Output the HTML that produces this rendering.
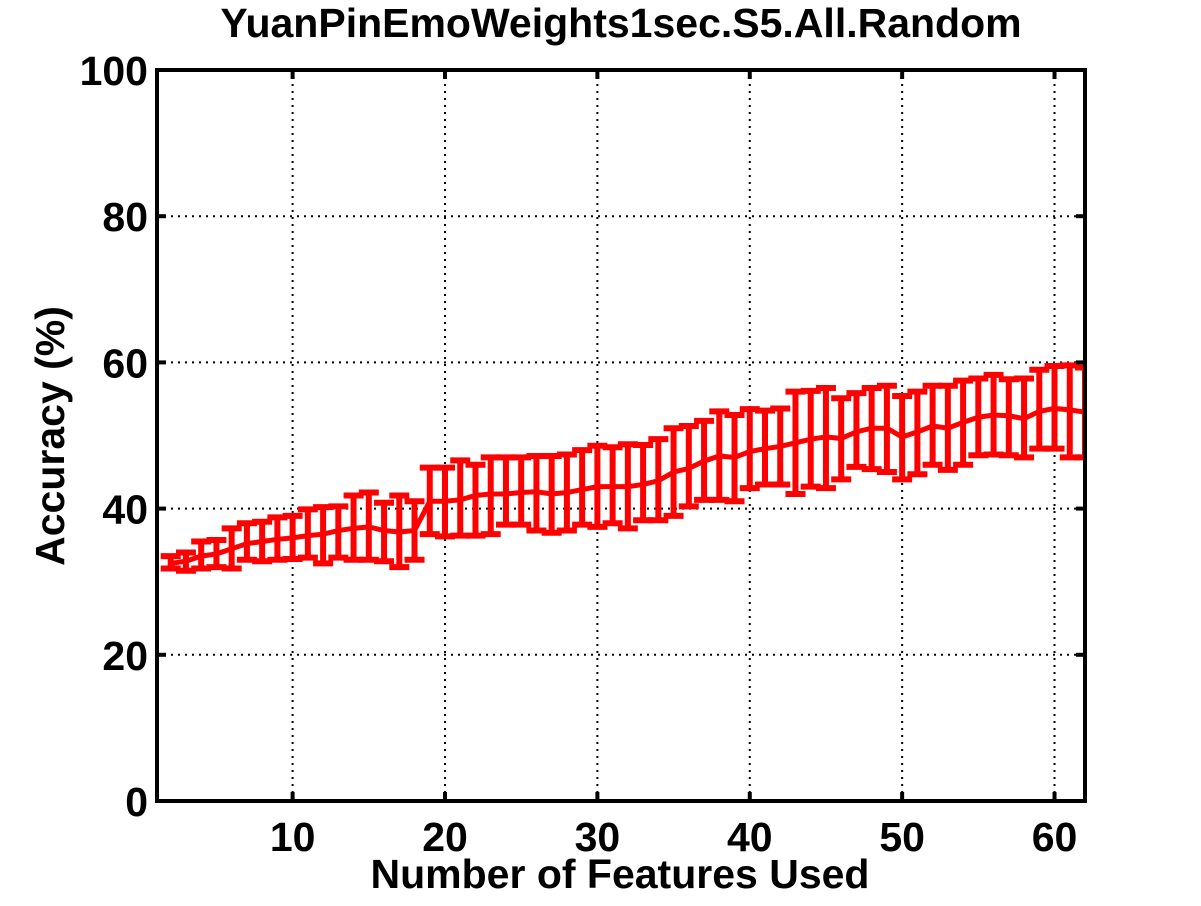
<!DOCTYPE html>
<html><head><meta charset="utf-8"><style>
body{margin:0;background:#fff}
svg text{font-family:"Liberation Sans",Arial,sans-serif;font-weight:bold;fill:#000}
</style></head><body>
<svg id="chart" width="1201" height="901" viewBox="0 0 1201 901" xmlns="http://www.w3.org/2000/svg">
<defs><clipPath id="plotclip"><rect x="157" y="70" width="928" height="731"/></clipPath></defs>
<rect width="1201" height="901" fill="#fff"/>
<text x="621" y="37" font-size="41" text-anchor="middle">YuanPinEmoWeights1sec.S5.All.Random</text>
<g id="grid"></g>
<g id="series" clip-path="url(#plotclip)"></g>
<g id="axes"></g>
<text x="620" y="888" font-size="41" text-anchor="middle">Number of Features Used</text>
<text x="64" y="436" font-size="41" text-anchor="middle" transform="rotate(-90 64 436)">Accuracy (%)</text>
</svg>
<script>
const xs=[2,3,4,5,6,7,8,9,10,11,12,13,14,15,16,17,18,19,20,21,22,23,24,25,26,27,28,29,30,31,32,33,34,35,36,37,38,39,40,41,42,43,44,45,46,47,48,49,50,51,52,53,54,55,56,57,58,59,60,61,62];
const meanVals=[32.5,32.8,33.5,33.8,34.5,35.2,35.5,35.8,36,36.3,36.5,37,37.3,37.5,37,36.8,37,41,41,41.2,41.8,42,42,42.2,42.3,42,42.2,42.6,43,43,43,43.3,43.8,45,45.5,46.5,47.2,47,47.8,48.2,48.5,49,49.5,49.8,49.6,50.5,51,51,49.8,50.5,51.3,51,51.8,52.5,52.8,52.7,52.3,53.3,53.7,53.5,53.2];
const upperVals=[33.5,34,35.5,35.7,37.3,38,38.2,38.8,39,39.9,40.2,40.3,41.8,42.2,40.8,41.8,41,45.6,45.6,46.6,46,47,47,47,47.2,47.2,47.4,48,48.6,48.4,48.8,48.7,49.5,51,51.3,52,53.3,52.8,53.6,53.4,53.7,56,56.1,56.5,55.1,55.8,56.5,56.8,55.4,56,56.8,56.8,57.5,57.8,58.3,57.7,57.8,59,59.5,59.6,59.3];
const lowerVals=[31.8,31.5,31.8,32,31.8,33,32.8,33,33.1,33.3,32.5,33.3,33,33,32.8,32,33,36.5,36.2,36.3,36.3,36.5,37.8,37.8,37,36.7,37,37.8,37.5,38,37.3,38.4,38.4,39,40.3,41.2,41.2,41,42.8,43.3,43.3,42,43,42.8,44,45.7,45.4,45,44,44.7,46,45.3,46,47.3,47.4,47.3,47,48.2,48.2,47,47];
const xTicks=[10,20,30,40,50,60];
const yTicks=[0,20,40,60,80,100];
const L=157,R=1085,T=70,B=801,X0=1.1,X1=62,Y0=0,Y1=100;
const sx=v=>L+(v-X0)/(X1-X0)*(R-L);
const sy=v=>B-(v-Y0)/(Y1-Y0)*(B-T);
const NS="http://www.w3.org/2000/svg";
function mk(tag,attrs,parent){const e=document.createElementNS(NS,tag);for(const k in attrs)e.setAttribute(k,attrs[k]);parent.appendChild(e);return e;}
const grid=document.getElementById('grid'),series=document.getElementById('series'),axes=document.getElementById('axes');
xTicks.forEach(t=>{const l=mk('line',{x1:sx(t),x2:sx(t),y1:T,y2:B,stroke:'#000','stroke-width':2,'stroke-dasharray':'2 5'},grid);
});
yTicks.slice(1,-1).forEach(t=>{const l=mk('line',{x1:L,x2:R,y1:sy(t),y2:sy(t),stroke:'#000','stroke-width':2,'stroke-dasharray':'2 5'},grid);
});
xs.forEach((x,i)=>{const cx=sx(x),cw=10;
const g=mk('g',{stroke:'#ff0000','stroke-width':6,fill:'none'},series);

mk('line',{x1:cx,x2:cx,y1:sy(upperVals[i]),y2:sy(lowerVals[i])},g);
mk('line',{x1:cx-cw,x2:cx+cw,y1:sy(upperVals[i]),y2:sy(upperVals[i])},g);
mk('line',{x1:cx-cw,x2:cx+cw,y1:sy(lowerVals[i]),y2:sy(lowerVals[i])},g);});
const pl=mk('polyline',{points:xs.map((x,i)=>sx(x)+','+sy(meanVals[i])).join(' '),fill:'none',stroke:'#ff0000','stroke-width':5},series);

const box=mk('rect',{x:L,y:T,width:R-L,height:B-T,fill:'none',stroke:'#000','stroke-width':4},axes);

xTicks.forEach(t=>{mk('line',{x1:sx(t),x2:sx(t),y1:B,y2:B-9,stroke:'#000','stroke-width':4},axes);mk('line',{x1:sx(t),x2:sx(t),y1:T,y2:T+9,stroke:'#000','stroke-width':4},axes);
const tx=mk('text',{x:sx(t),y:B+50,'font-size':41,'text-anchor':'middle'},axes);tx.textContent=t;
});
yTicks.forEach(t=>{mk('line',{x1:L,x2:L+9,y1:sy(t),y2:sy(t),stroke:'#000','stroke-width':4},axes);mk('line',{x1:R,x2:R-9,y1:sy(t),y2:sy(t),stroke:'#000','stroke-width':4},axes);
const tx=mk('text',{x:L-9,y:sy(t)+15,'font-size':41,'text-anchor':'end'},axes);tx.textContent=t;
});
</script>
</body></html>
